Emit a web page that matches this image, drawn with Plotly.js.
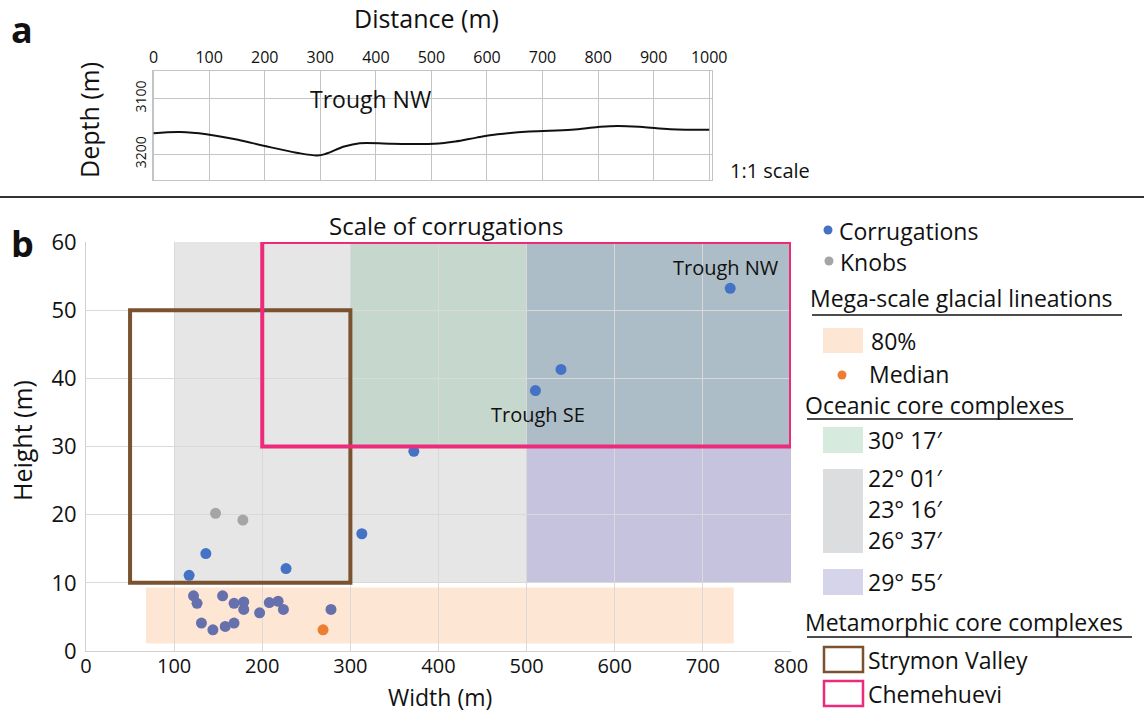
<!DOCTYPE html>
<html><head><meta charset="utf-8">
<script src="https://cdn.plot.ly/plotly-3.0.1.min.js"></script>
<style>body{margin:0;background:#fff}#chart{width:1144px;height:713px}</style>
</head><body><div id="chart"></div>
<script>
// ---------- Panel a : depth profile, Trough NW ----------
const profileDistance = [0,48,95,152,200,257,295,310,343,371,429,505,543,581,619,676,752,800,835,880,930,1000];
const profileDepth    = [3162,3160,3164,3174,3185,3197,3202,3199,3186,3180,3181,3181,3177,3170,3164,3159,3156,3151,3149,3151,3155,3156];
const distanceTicks = [0,100,200,300,400,500,600,700,800,900,1000];
const depthTicks = [3100,3200];

// ---------- Panel b : scale of corrugations ----------
const corrWidth  = [731,539,510,372,313,227,136,117,122,126,155,168,179,179,197,208,218,224,278,131,144,158,168];
const corrHeight = [53.2,41.3,38.2,29.3,17.2,12.1,14.3,11.1,8.1,7.0,8.1,7.0,7.2,6.1,5.6,7.1,7.3,6.1,6.1,4.1,3.1,3.6,4.1];
const knobWidth  = [147,178];
const knobHeight = [20.2,19.2];
const medianWidth  = [269];
const medianHeight = [3.1];
const msglWidthRange  = [68,735];
const msglHeightRange = [1.1,9.3];
const occNames = ["30° 17′","22° 01′","23° 16′","26° 37′","29° 55′"];
const occWidthRanges  = {green:[300,800], gray:[100,500], purple:[500,800]};
const occHeightRanges = {green:[30,60],  gray:[10,60],  purple:[10,60]};
const mccNames = ["Strymon Valley","Chemehuevi"];
const mccWidthRanges  = [[50,300],[200,800]];
const mccHeightRanges = [[10,50],[30,60]];
const widthTicks  = [0,100,200,300,400,500,600,700,800];
const heightTicks = [0,10,20,30,40,50,60];

const W = 1144, H = 713;
const px = x => x / W, py = y => 1 - y / H;
const FONT = 'Open Sans, sans-serif';
const BLUE = '#4472c4', GRAY = '#a5a5a5', ORANGE = '#ed7d31';
const LS = 23; // legend font size

const inMsgl = (x, y) => x >= msglWidthRange[0] && x <= msglWidthRange[1] && y >= msglHeightRange[0] && y <= msglHeightRange[1];

const traces = [
  {x: profileDistance, y: profileDepth, xaxis: 'x2', yaxis: 'y2', mode: 'lines',
   line: {color: '#111', width: 2, shape: 'spline'}, showlegend: false, hoverinfo: 'skip'},
  {x: corrWidth, y: corrHeight, mode: 'markers', name: 'Corrugations',
   marker: {size: 11, color: corrWidth.map((w, i) => inMsgl(w, corrHeight[i]) ? '#6670ad' : BLUE)}, showlegend: false},
  {x: knobWidth, y: knobHeight, mode: 'markers', name: 'Knobs',
   marker: {size: 11, color: GRAY}, showlegend: false},
  {x: medianWidth, y: medianHeight, mode: 'markers', name: 'Median',
   marker: {size: 11, color: ORANGE}, showlegend: false}
];

const shapes = [];
const rect = (xr, yr, opts) => Object.assign({type: 'rect', xref: 'x', yref: 'y', x0: xr[0], x1: xr[1], y0: yr[0], y1: yr[1]}, opts);
// oceanic core complexes
shapes.push(rect(occWidthRanges.gray, occHeightRanges.gray, {fillcolor: '#e6e6e6', line: {width: 0}, layer: 'below'}));
shapes.push(rect(occWidthRanges.purple, occHeightRanges.purple, {fillcolor: '#c5c3dd', line: {width: 0}, layer: 'below'}));
shapes.push(rect(occWidthRanges.green, occHeightRanges.green, {fillcolor: 'rgba(110,175,140,0.27)', line: {width: 0}, layer: 'below'}));
// MSGL 80%
shapes.push(rect(msglWidthRange, msglHeightRange, {fillcolor: '#fde7d4', line: {width: 0}, layer: 'below'}));
// metamorphic core complexes
const mccColors = ['#7b5230', '#ee2a7b'];
mccWidthRanges.forEach((xr, i) => shapes.push(rect(xr, mccHeightRanges[i], {line: {color: mccColors[i], width: 4}, fillcolor: 'rgba(0,0,0,0)', layer: 'above'})));

// separator line
shapes.push({type: 'line', xref: 'paper', yref: 'paper', x0: 0, x1: 1, y0: py(197), y1: py(197), line: {color: '#333', width: 2}});

// legend (paper space)
const annotations = [];
const ann = (text, x, y, size, opts) => annotations.push(Object.assign({text, x: px(x), y: py(y), xref: 'paper', yref: 'paper',
  xanchor: 'left', yanchor: 'middle', showarrow: false, font: {family: FONT, size, color: '#111'}}, opts || {}));
const dot = (cx, cy, r, color) => shapes.push({type: 'circle', xref: 'paper', yref: 'paper', x0: px(cx - r), x1: px(cx + r), y0: py(cy + r), y1: py(cy - r), fillcolor: color, line: {width: 0}});
const box = (x0, y0, x1, y1, fill, line) => shapes.push({type: 'rect', xref: 'paper', yref: 'paper', x0: px(x0), x1: px(x1), y0: py(y1), y1: py(y0), fillcolor: fill, line: line || {width: 0}});
const uline = (x0, x1, y) => shapes.push({type: 'line', xref: 'paper', yref: 'paper', x0: px(x0), x1: px(x1), y0: py(y), y1: py(y), line: {color: '#111', width: 1.6}});

dot(828, 230, 4.5, BLUE); ann('Corrugations', 837, 231, LS);
dot(829, 261, 4.5, GRAY); ann('Knobs', 838, 262, LS);
ann('Mega-scale glacial lineations', 808, 298, LS); uline(812, 1122, 315);
box(823, 328, 863, 353, '#fde7d4'); ann('80%', 869, 341, LS);
dot(842, 375, 4.5, ORANGE); ann('Median', 867, 374, LS);
ann('Oceanic core complexes', 803, 405, LS); uline(807, 1073, 419);
box(823, 427, 863, 453, '#d6eadd'); ann(occNames[0], 866, 440, LS);
box(823, 469, 863, 553, '#dcdddf'); ann(occNames[1], 866, 478, LS); ann(occNames[2], 866, 509, LS); ann(occNames[3], 866, 540, LS);
box(823, 569, 863, 595, '#d6d4ea'); ann(occNames[4], 866, 582, LS);
ann('Metamorphic core complexes', 803, 622, LS); uline(807, 1132, 637);
box(824, 647, 863, 672, 'rgba(0,0,0,0)', {color: mccColors[0], width: 2.5}); ann(mccNames[0], 866, 660, LS);
box(824, 681, 863, 706, 'rgba(0,0,0,0)', {color: mccColors[1], width: 2.5}); ann(mccNames[1], 866, 694, LS);

// panel labels and titles
ann('<b>a</b>', 9, 30, 36);
ann('<b>b</b>', 9, 243, 36);
ann('Distance (m)', 426, 18, 25, {xanchor: 'center'});
ann('Depth (m)', 89, 120, 25, {xanchor: 'center', textangle: -90});
ann('1:1 scale', 770, 171, 20, {xanchor: 'center'});
ann('Scale of corrugations', 446, 225, 24, {xanchor: 'center'});
ann('Width (m)', 440, 697, 23, {xanchor: 'center'});
ann('Height (m)', 22, 441, 25, {xanchor: 'center', textangle: -90});
// data-anchored labels
annotations.push({text: 'Trough NW', x: 390, y: 3100, xref: 'x2', yref: 'y2', showarrow: false, font: {family: FONT, size: 23, color: '#111'}});
annotations.push({text: 'Trough NW', x: 726, y: 56.3, xref: 'x', yref: 'y', showarrow: false, font: {family: FONT, size: 20, color: '#111'}});
annotations.push({text: 'Trough SE', x: 513, y: 34.7, xref: 'x', yref: 'y', showarrow: false, font: {family: FONT, size: 20, color: '#111'}});

const layout = {
  width: W, height: H, margin: {l: 0, r: 0, t: 0, b: 0}, paper_bgcolor: '#fff', plot_bgcolor: 'rgba(0,0,0,0)',
  showlegend: false, shapes, annotations,
  xaxis: {domain: [px(86), px(791)], range: [0, 800], tickvals: widthTicks, gridcolor: '#d9d9d9', zeroline: false,
          showline: true, linecolor: '#d0d0d0', ticks: '', ticklabelstandoff: -3, tickfont: {family: FONT, size: 20, color: '#111'}, fixedrange: true},
  yaxis: {domain: [py(651), py(242)], range: [0, 60], tickvals: heightTicks, gridcolor: '#d9d9d9', zeroline: false,
          showline: true, linecolor: '#d0d0d0', ticks: '', ticklabelstandoff: 4, tickfont: {family: FONT, size: 22, color: '#111'}, fixedrange: true},
  xaxis2: {domain: [px(152.5), px(712)], range: [-2, 1005], side: 'top', anchor: 'y2', tickvals: distanceTicks,
           gridcolor: '#c4c4c4', zeroline: false, showline: true, mirror: true, linecolor: '#c4c4c4', ticks: '',
           tickfont: {family: FONT, size: 16, color: '#111'}, fixedrange: true},
  yaxis2: {domain: [py(180), py(70.7)], range: [3246, 3050], anchor: 'x2', tickvals: depthTicks, tickangle: -90,
           gridcolor: '#c4c4c4', zeroline: false, showline: true, mirror: true, linecolor: '#c4c4c4', ticks: '',
           tickfont: {family: FONT, size: 14, color: '#111'}, fixedrange: true}
};

Plotly.newPlot('chart', traces, layout, {staticPlot: true});
</script></body></html>
